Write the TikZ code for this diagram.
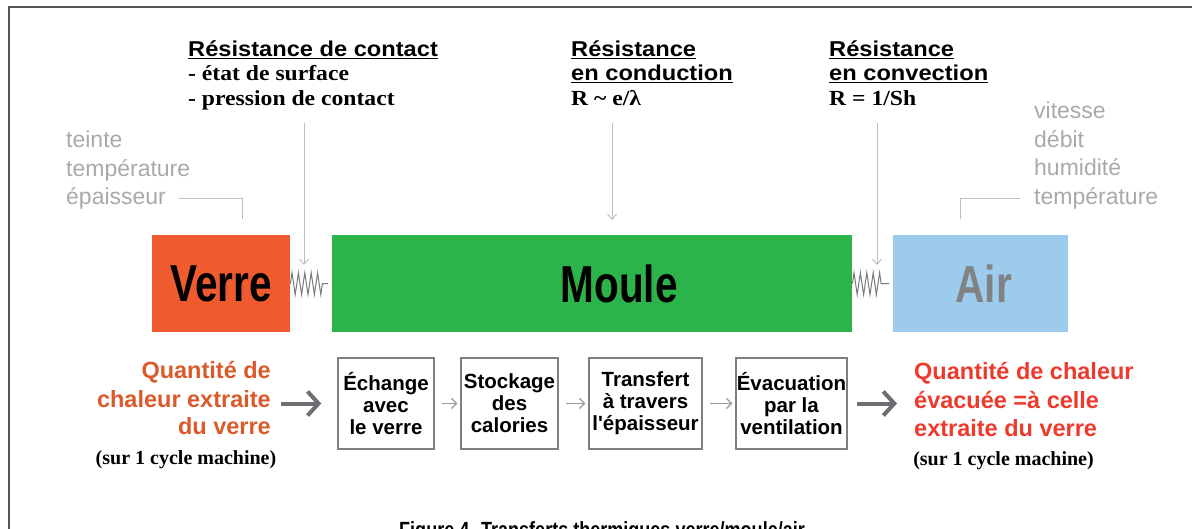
\documentclass[tikz,border=0pt]{standalone}
\usepackage{fontspec}
\setmainfont{Liberation Sans}
\newfontfamily\widesans[FakeStretch=1.1]{Liberation Sans}
\newfontfamily\wideserif[FakeStretch=1.1]{Liberation Serif}
\newfontfamily\narrowsans[FakeStretch=0.78]{Liberation Sans}
\newfontfamily\capsans[FakeStretch=0.82]{Liberation Sans}
\newfontfamily\timesfont{Liberation Serif}
\usetikzlibrary{arrows}
\usetikzlibrary{arrows.meta}
\usetikzlibrary{positioning}
\usetikzlibrary{decorations.pathmorphing}
\definecolor{VerreRed}{HTML}{EF5A2E}
\definecolor{MouleGreen}{HTML}{2CB34A}
\definecolor{AirBlue}{HTML}{9CCBEC}
\definecolor{AirText}{HTML}{808285}
\definecolor{LightGrey}{HTML}{A7A9AC}
\definecolor{LineGrey}{HTML}{BCBEC0}
\definecolor{SpringGrey}{HTML}{7A7A7A}
\definecolor{DarkGrey}{HTML}{6D6E71}
\definecolor{BoxGrey}{HTML}{7F7F7F}
\definecolor{FrameGrey}{HTML}{555555}
\definecolor{HeatOrange}{HTML}{D95B2B}
\definecolor{HeatRed}{HTML}{ED3A2C}
\tikzset{
  hdr/.style={anchor=base west, inner sep=0pt, font=\widesans\bfseries\fontsize{21.5}{24}\selectfont},
  hdrsub/.style={anchor=base west, inner sep=0pt, font=\wideserif\bfseries\fontsize{21.5}{24}\selectfont},
  paramtxt/.style={anchor=base west, inner sep=0pt, text=LightGrey, font=\fontsize{23}{28}\selectfont},
  heat/.style={inner sep=0pt, font=\bfseries\fontsize{23.5}{28}\selectfont},
  cyclenote/.style={anchor=base, inner sep=0pt, font=\timesfont\bfseries\fontsize{20}{24}\selectfont},
  material/.style={anchor=north west, minimum height=97pt, inner sep=0pt},
  biglabel/.style={inner sep=0pt, font=\narrowsans\bfseries\fontsize{52}{52}\selectfont},
  stepbox/.style={draw=BoxGrey, line width=1.5pt, minimum height=91pt, inner sep=0pt,
    align=center, font=\bfseries\fontsize{20.5}{22}\selectfont},
  pointer/.style={draw=LineGrey, line width=1pt, -{Straight Barb[length=5pt,width=9pt]}},
  bracketline/.style={draw=LineGrey, line width=1pt},
  spring/.style={draw=SpringGrey, line width=1pt, decorate,
    decoration={zigzag, segment length=6.4pt, amplitude=11pt, post length=5pt}},
  smallarrow/.style={draw=BoxGrey!80, line width=1.2pt, -{Straight Barb[length=5pt,width=10pt]},
    shorten <=7pt, shorten >=3pt},
  bigarrow/.style={draw=DarkGrey, line width=4pt, -{Straight Barb[length=11pt,width=24pt]}}
}

\begin{document}
\begin{tikzpicture}[x=1pt, y=-1pt]
  \useasboundingbox (0,0) rectangle (1192,529);
  \draw[FrameGrey, line width=1.5pt] (9,7) rectangle (1200,545);

  % materiaux
  \node[material, fill=VerreRed, minimum width=138pt] (verre) at (152,235) {};
  \node[material, fill=MouleGreen, minimum width=520pt] (moule) at (332,235) {};
  \node[material, fill=AirBlue, minimum width=175pt] (air) at (893,235) {};
  \node[biglabel] (verrelbl) at (verre.center) {Verre};
  \node[biglabel] (moulelbl) at ([xshift=27pt]moule.center) {Moule};
  \node[biglabel, text=AirText] (airlbl) at ([xshift=3pt]air.center) {Air};

  \draw[spring] (verre.east) -- ([xshift=-4pt]moule.west);
  \draw[spring] (moule.east) -- ([xshift=-4pt]air.west);

  % resistances
  \node[hdr] (contact1) at (188,57) {\underline{Résistance de contact}};
  \node[hdrsub] (contact2) at (188,81) {- état de surface};
  \node[hdrsub] (contact3) at (188,106) {- pression de contact};
  \node[hdr] (conduc1) at (571,57) {\underline{Résistance}};
  \node[hdr] (conduc2) at (571,81) {\underline{en conduction}};
  \node[hdrsub] (conduc3) at (571,106) {R \textasciitilde{} e/λ};
  \node[hdr] (convec1) at (829,57) {\underline{Résistance}};
  \node[hdr] (convec2) at (829,81) {\underline{en convection}};
  \node[hdrsub] (convec3) at (829,106) {R = 1/Sh};

  \coordinate (pa1) at (304,123);
  \coordinate (pb1) at (304,265);
  \coordinate (pa2) at (612,123);
  \coordinate (pb2) at (612,220);
  \coordinate (pa3) at (877,123);
  \coordinate (pb3) at (877,265);
  \foreach \i in {1,2,3}{%
    \draw[pointer] (pa\i) -- (pb\i);
  }

  % parametres
  \foreach \t [count=\i] in {teinte, température, épaisseur}{%
    \node[paramtxt] (verrep\i) at (66,{148+28.5*(\i-1)}) {\t};
  }
  \foreach \t [count=\i] in {vitesse, débit, humidité, température}{%
    \node[paramtxt] (airp\i) at (1034,{119+28.5*(\i-1)}) {\t};
  }
  \coordinate (vb) at (242,219);
  \coordinate (ab) at (960,219);
  \draw[bracketline] ([xshift=13pt]verrep3.east) -| (vb);
  \draw[bracketline] ([xshift=-14pt]airp4.west) -| (ab);

  % chaleur
  \foreach \t [count=\i] in {Quantité de, chaleur extraite, du verre}{%
    \node[heat, text=HeatOrange, anchor=base east] (qin\i) at (271,{379+28*(\i-1)}) {\t};
  }
  \node[cyclenote] (qincycle) at (186,464) {(sur 1 cycle machine)};
  \foreach \t [count=\i] in {Quantité de chaleur, évacuée =à celle, extraite du verre}{%
    \node[heat, text=HeatRed, anchor=base west] (qout\i) at (914,{380+28*(\i-1)}) {\t};
  }
  \node[cyclenote] (qoutcycle) at (1003.5,465) {(sur 1 cycle machine)};

  \node[stepbox, minimum width=96pt] (echange) at (386,403.5) {Échange\\avec\\le verre};
  \node[stepbox, minimum width=97pt] (stockage) at (509.5,403.5) {Stockage\\des\\calories};
  \node[stepbox, minimum width=113pt] (transfert) at (645.5,403.5) {Transfert\\à travers\\l\textquotesingle épaisseur};
  \node[stepbox, minimum width=111pt] (evacuation) at (791.5,403.5) {Évacuation\\par la\\ventilation};

  \draw[smallarrow] (echange) -- (stockage);
  \draw[smallarrow] (stockage) -- (transfert);
  \draw[smallarrow] (transfert) -- (evacuation);
  \draw[bigarrow, shorten <=10pt, shorten >=16pt] (echange.west -| qin2.east) -- (echange.west);
  \draw[bigarrow, shorten <=9pt, shorten >=17pt] (evacuation.east) -- (evacuation.east -| qout1.west);

  \node[anchor=north west, inner sep=0pt, font=\capsans\bfseries\fontsize{22}{22}\selectfont]
    (caption) at (399,521) {Figure 4. Transferts thermiques verre/moule/air};
\end{tikzpicture}
\end{document}
